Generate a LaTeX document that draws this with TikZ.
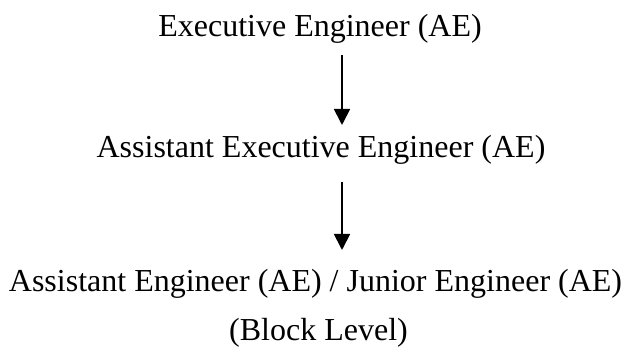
\documentclass[tikz,border=0pt]{standalone}
\usepackage{fontspec}
\setmainfont{Liberation Serif}
\usetikzlibrary{arrows.meta}
\tikzset{
  rank/.style={inner sep=0pt, anchor=base, font=\fontsize{32}{38}\selectfont},
  link/.style={line width=1.8pt, -{Triangle[width=16pt,length=16pt]}},
}
\begin{document}
\begin{tikzpicture}[x=1pt,y=1pt]
  \useasboundingbox (0,0) rectangle (627,350);
  % ranks, top to bottom
  \node[rank] (ee)  at (320,313) {Executive Engineer (AE)};
  \node[rank] (aee) at (321,192) {Assistant Executive Engineer (AE)};
  \node[rank] (ae)  at (315.5,58) {Assistant Engineer (AE) / Junior Engineer (AE)};
  \node[rank] (blk) at (318.5,9) {(Block Level)};
  % arrow ends
  \coordinate (a1s) at (342,295);
  \coordinate (a1e) at (342,225);
  \coordinate (a2s) at (342,168);
  \coordinate (a2e) at (342,100);
  \draw[link] (a1s) -- (a1e);
  \draw[link] (a2s) -- (a2e);
\end{tikzpicture}
\end{document}
